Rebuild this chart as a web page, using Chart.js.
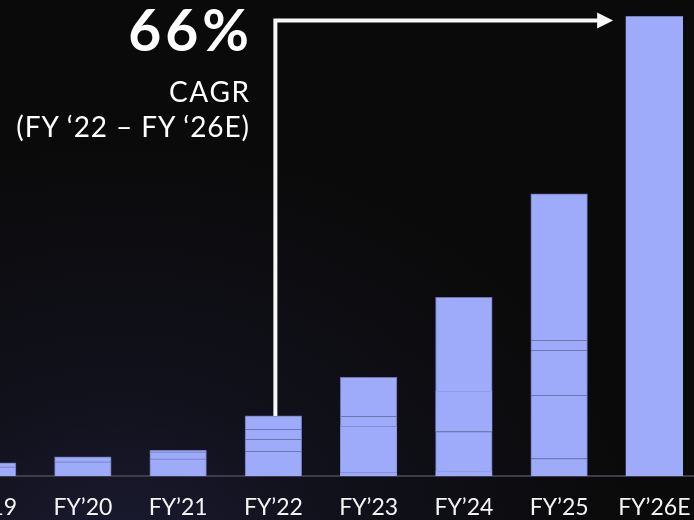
<!DOCTYPE html>
<html>
<head>
<meta charset="utf-8">
<script src="https://cdn.jsdelivr.net/npm/chart.js@4/dist/chart.umd.min.js"></script>
<style>
  html, body {
    margin: 0;
    padding: 0;
    width: 694px;
    height: 520px;
    overflow: hidden;
    background: #0a0a0a;
  }
  #stage {
    position: relative;
    width: 694px;
    height: 520px;
    overflow: hidden;
    background:
      radial-gradient(ellipse 520px 420px at 120px 560px, rgba(28, 28, 52, 0.95) 0%, rgba(20, 20, 36, 0.7) 40%, rgba(10, 10, 10, 0) 100%),
      #0a0a0a;
  }
  #plot {
    position: absolute;
    left: -60px;
    top: 0;
    width: 762px;
    height: 520px;
  }
  .note {
    position: absolute;
    right: 445px;
    color: #ffffff;
    font-family: Lato, "Open Sans", sans-serif;
    white-space: nowrap;
    text-align: right;
    line-height: 1;
  }
  #rate { top: 1px; font-size: 57px; font-weight: 700; letter-spacing: 4px; margin-right: -4px; }
  #metric { top: 77px; font-size: 28px; font-weight: 400; letter-spacing: 1.6px; margin-right: -1.6px; }
  #period { top: 112px; font-size: 28px; font-weight: 400; letter-spacing: 0.9px; margin-right: -0.9px; }
</style>
</head>
<body>
<div id="stage">
  <div id="plot"><canvas id="chart"></canvas></div>
  <div class="note" id="rate">66%</div>
  <div class="note" id="metric">CAGR</div>
  <div class="note" id="period">(FY ‘22 – FY ‘26E)</div>
</div>
<script>
// Fiscal years on the x axis
const years = ['FY’19', 'FY’20', 'FY’21', 'FY’22', 'FY’23', 'FY’24', 'FY’25', 'FY’26E'];

// Stacked components of each year's bar, bottom layer first (null = no such component)
const layer1 = [0.90, 1.40, 1.70, 2.47, 0.33, 0.47, 1.73, 45.93];
const layer2 = [0.40, 0.50, 0.70, 1.20, 4.64, 3.96, 6.34, null];
const layer3 = [null, null, 0.17, 1.00, 1.00, 4.04, 4.50, null];
const layer4 = [null, null, null, 1.33, 3.90, 9.40, 1.00, null];
const layer5 = [null, null, null, null, null, null, 14.63, null];

const layers = [layer1, layer2, layer3, layer4, layer5];

// Growth arrow runs from this year's bar to the last one
const arrowFrom = 3;
const arrowTo = 7;

// Colours
const BAR = '#9eaafa';
const EDGE = '#6c76ad';
const DARK = '#6e78b0';
const MID = '#848ed3';
const FAINT = '#939ded';
const NONE = 'rgba(0,0,0,0)';

// Divider (top-edge) colour of each component, per year
const dividerColors = [
  [DARK, DARK, DARK, DARK, FAINT, FAINT, DARK, NONE],
  [EDGE, EDGE, DARK, DARK, MID, DARK, DARK, NONE],
  [NONE, NONE, EDGE, DARK, DARK, FAINT, DARK, NONE],
  [NONE, NONE, NONE, EDGE, EDGE, EDGE, DARK, NONE],
  [NONE, NONE, NONE, NONE, NONE, NONE, EDGE, NONE]
];

const totals = years.map((_, i) => layers.reduce((s, l) => s + (l[i] || 0), 0));

const datasets = layers.map((values, k) => ({
  label: 'Component ' + (k + 1),
  data: values,
  backgroundColor: BAR,
  borderColor: dividerColors[k],
  borderWidth: (ctx) => ctx.dataIndex === years.length - 1
    ? 0
    : { top: 1, left: 1, right: 1, bottom: 0 },
  borderSkipped: 'start',
  // slight overlap so stacked segments leave no seams between them
  inflateAmount: 0.4,
  barPercentage: 0.593,
  categoryPercentage: 1.0
}));

// White elbow arrow from the FY'22 bar top across to the FY'26E bar
const growthArrow = {
  id: 'growthArrow',
  afterDatasetsDraw(chart) {
    const { ctx, scales: { x, y } } = chart;
    const meta = chart.getDatasetMeta(0);
    const endBar = meta.data[arrowTo];
    const x0 = x.getPixelForValue(arrowFrom) + 2;
    const y0 = y.getPixelForValue(totals[arrowFrom]);
    const yTop = 20.5;
    const tipX = endBar.x - endBar.width / 2 - 13;
    const headLen = 16;
    const headHalf = 8;
    ctx.save();
    ctx.strokeStyle = '#f7f7f7';
    ctx.fillStyle = '#f7f7f7';
    ctx.lineWidth = 4;
    ctx.lineJoin = 'miter';
    ctx.beginPath();
    ctx.moveTo(x0, y0);
    ctx.lineTo(x0, yTop);
    ctx.lineTo(tipX - headLen + 1, yTop);
    ctx.stroke();
    ctx.beginPath();
    ctx.moveTo(tipX, yTop);
    ctx.lineTo(tipX - headLen, yTop - headHalf);
    ctx.lineTo(tipX - headLen, yTop + headHalf);
    ctx.closePath();
    ctx.fill();
    ctx.restore();
  }
};

new Chart(document.getElementById('chart'), {
  type: 'bar',
  data: { labels: years, datasets },
  options: {
    responsive: true,
    maintainAspectRatio: false,
    animation: false,
    events: [],
    layout: { padding: 0 },
    plugins: {
      legend: { display: false },
      tooltip: { enabled: false },
      title: { display: false }
    },
    scales: {
      x: {
        stacked: true,
        grid: { display: false, drawTicks: false },
        border: { display: true, color: '#3b3d47', width: 2 },
        ticks: {
          color: '#f4f4f4',
          padding: 0,
          font: { family: 'Lato', size: 23, weight: '400', lineHeight: '63.6px' },
          maxRotation: 0,
          autoSkip: false
        },
        afterFit(scale) { scale.height = 44; }
      },
      y: {
        stacked: true,
        display: false,
        min: 0,
        max: 47.6
      }
    }
  },
  plugins: [growthArrow]
});
</script>
</body>
</html>
